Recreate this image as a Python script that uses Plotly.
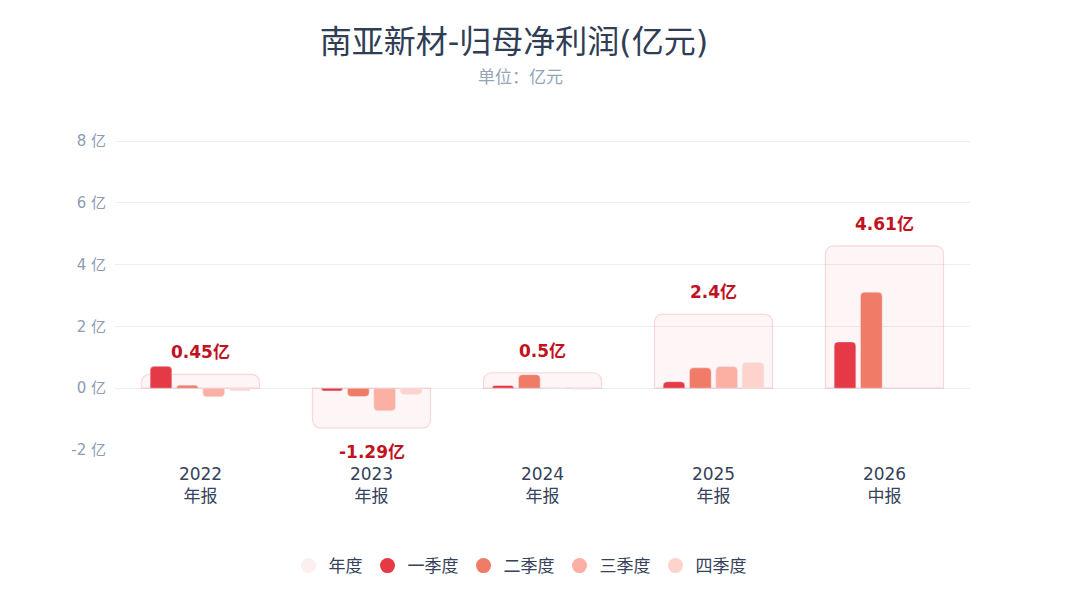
import plotly.graph_objects as go

# 南亚新材 归母净利润, unit: 亿元
PERIODS = ["2022", "2023", "2024", "2025", "2026"]
REPORT_TYPES = ["年报", "年报", "年报", "年报", "中报"]
ANNUAL = [0.45, -1.29, 0.5, 2.4, 4.61]
Q1 = [0.71, -0.09, 0.09, 0.21, 1.5]
Q2 = [0.1, -0.27, 0.44, 0.66, 3.11]
Q3 = [-0.28, -0.73, 0.0, 0.7, None]
Q4 = [-0.08, -0.2, -0.03, 0.83, None]

Y_TICKS = [-2, 0, 2, 4, 6, 8]

QUARTER_NAMES = ["一季度", "二季度", "三季度", "四季度"]
QUARTER_COLORS = ["#e63946", "#f07b67", "#fcb0a3", "#fdd3cc"]
ANNUAL_FILL = "rgba(230,57,70,0.05)"
ANNUAL_LINE = "rgba(230,57,70,0.18)"
LABEL_COLOR = "#c1121f"
TEXT_COLOR = "#34425a"
MUTED = "#94a3b8"
FONT = "DejaVu Sans, Noto Sans CJK SC, sans-serif"

fig = go.Figure()

# yearly total as a faint wide box behind the quarterly bars
fig.add_trace(go.Bar(
    x=PERIODS, y=ANNUAL, name="年度", width=0.69,
    marker=dict(color=ANNUAL_FILL, line=dict(color=ANNUAL_LINE, width=1.2), cornerradius=8),
    showlegend=False, xaxis="x",
))

for name, vals, color in zip(QUARTER_NAMES, [Q1, Q2, Q3, Q4], QUARTER_COLORS):
    fig.add_trace(go.Bar(
        x=PERIODS, y=vals, name=name, xaxis="x2",
        marker=dict(color=color, cornerradius=4),
        showlegend=False,
    ))

# legend entries with round markers
legend_colors = ["#fbeff0"] + QUARTER_COLORS
for name, color in zip(["年度"] + QUARTER_NAMES, legend_colors):
    fig.add_trace(go.Scatter(
        x=[None], y=[None], mode="markers", name=name,
        marker=dict(color=color, size=15, symbol="circle"),
    ))

# annual value labels (category index used as x)
for i, v in enumerate(ANNUAL):
    fig.add_annotation(
        x=i, y=v, xref="x", yref="y", text=f"<b>{v}亿</b>", showarrow=False,
        yshift=22 if v >= 0 else -24,
        font=dict(size=17, color=LABEL_COLOR, family=FONT),
    )

# subtitle
fig.add_annotation(
    x=0.4737, y=1.0, xref="paper", yref="paper", yanchor="bottom",
    text="单位：亿元", showarrow=False, yshift=49,
    font=dict(size=17, color=MUTED, family=FONT),
)

fig.update_layout(
    width=1072, height=592,
    paper_bgcolor="white", plot_bgcolor="white",
    font=dict(family=FONT, color=TEXT_COLOR),
    title=dict(
        text="南亚新材-归母净利润(亿元)", x=0.472, xref="container", xanchor="center",
        y=0.9426, yref="container", yanchor="middle",
        font=dict(size=32, color="#2f3e54", family=FONT),
    ),
    barmode="group", bargap=0.384, bargroupgap=0.175,
    margin=dict(l=107, r=110, t=130, b=150),
    xaxis=dict(
        type="category", categoryorder="array", categoryarray=PERIODS,
        tickvals=PERIODS,
        ticktext=[f"{p}<br>{r}" for p, r in zip(PERIODS, REPORT_TYPES)],
        range=[-0.5, 4.5], showgrid=False, showline=False, zeroline=False,
        tickfont=dict(size=17, color=TEXT_COLOR), ticks="", ticklabelstandoff=12,
    ),
    xaxis2=dict(
        type="category", overlaying="x", categoryorder="array", categoryarray=PERIODS,
        range=[-0.5, 4.5], visible=False,
    ),
    yaxis=dict(
        range=[-2, 8.1], tickvals=Y_TICKS, ticktext=[f"{t} 亿" for t in Y_TICKS],
        gridcolor="#eceef3", zeroline=True, zerolinecolor="#eceef3", zerolinewidth=1,
        tickfont=dict(size=15, color="#8d9cb4"), ticklabelstandoff=8,
    ),
    legend=dict(
        orientation="h", x=0.4737, xanchor="center", y=-0.372, yanchor="middle",
        font=dict(size=17, color=TEXT_COLOR),
    ),
    showlegend=True,
)

fig.write_html("out.html")
